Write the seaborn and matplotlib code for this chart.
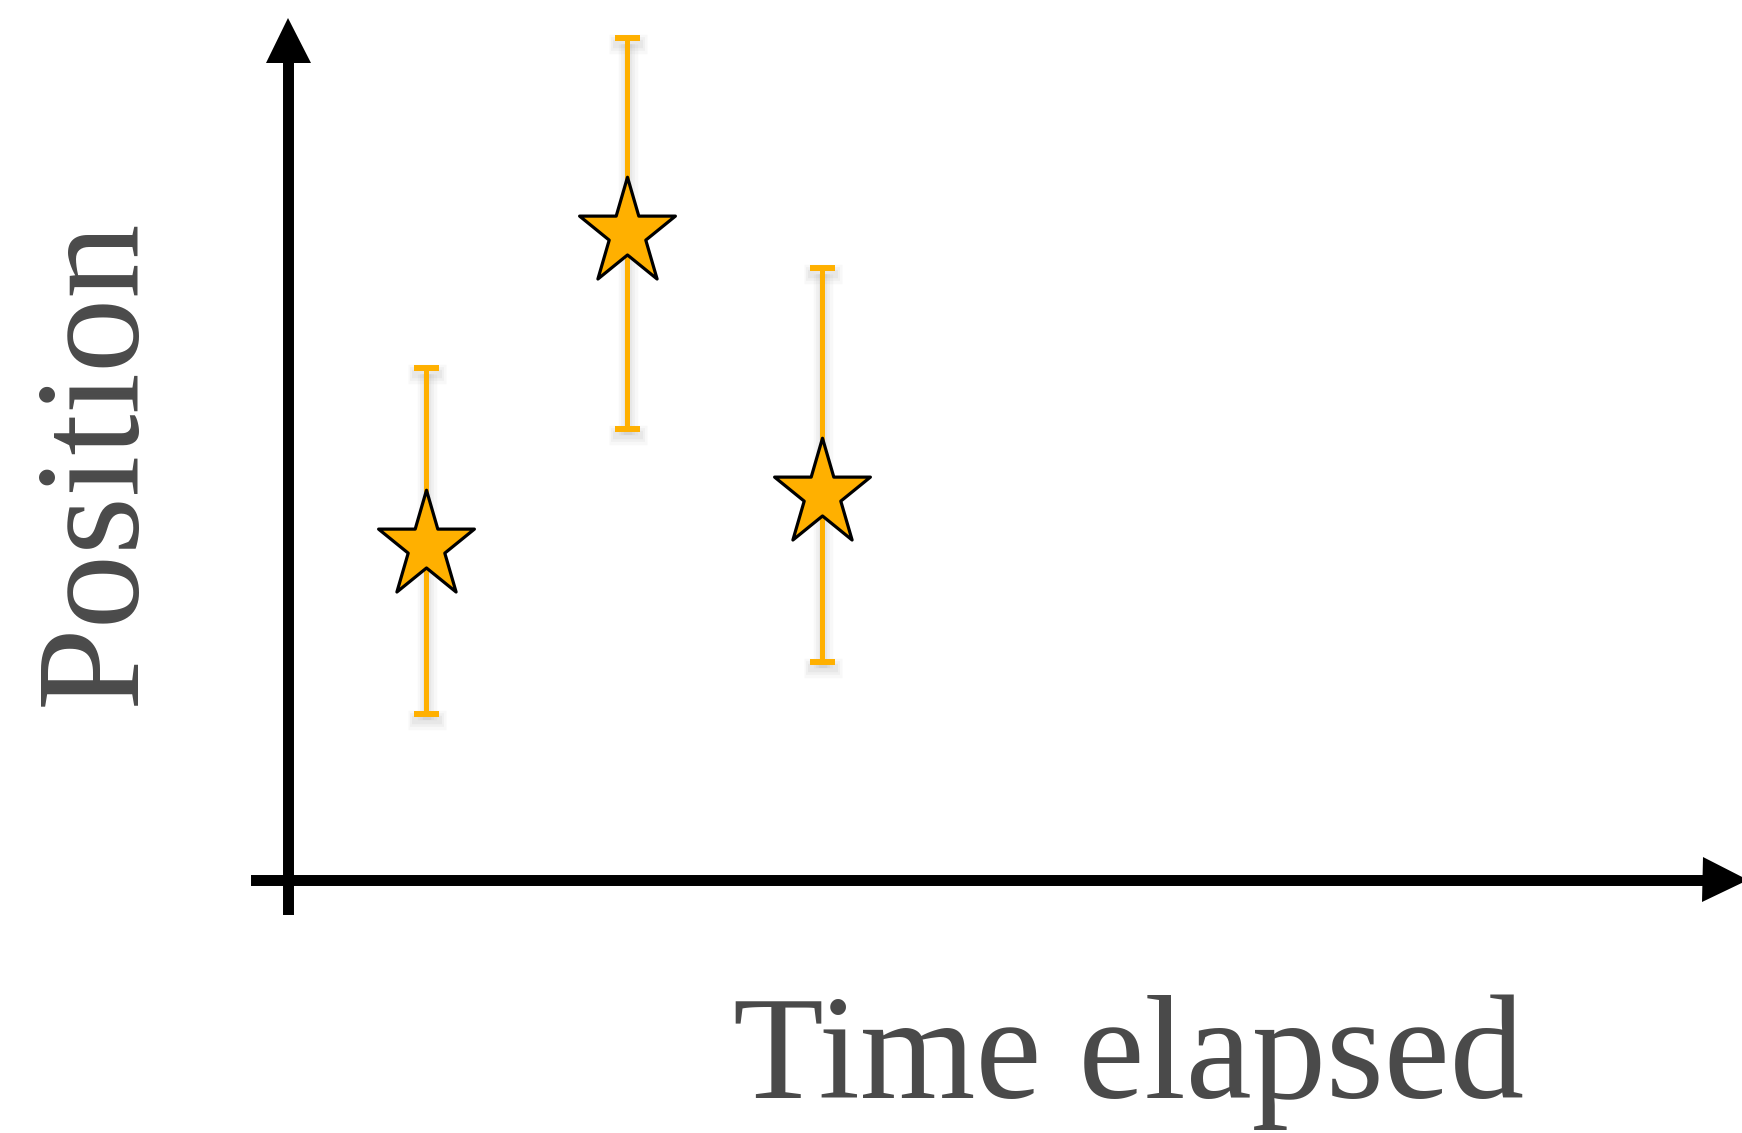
import numpy as np
import pandas
import seaborn as sns
import matplotlib.pyplot as plt
from matplotlib.path import Path
from matplotlib import transforms


TIME = [1.38, 3.39, 5.34]
POSITION = [3.34, 6.47, 3.86]
POS_LOW = [1.66, 4.51, 2.18]
POS_HIGH = [5.12, 8.42, 6.12]

ORANGE = "#FFB000"
TEXT_GREY = "#4A4A4A"


def star_marker(stretch=1.117):
    # five point star, a little taller than wide
    verts = []
    for k in range(5):
        a = np.deg2rad(90 + 72 * k)
        b = np.deg2rad(126 + 72 * k)
        verts.append((np.cos(a), np.sin(a) * stretch))
        verts.append((0.382 * np.cos(b), 0.382 * np.sin(b) * stretch))
    verts.append(verts[0])
    codes = [Path.MOVETO] + [Path.LINETO] * 9 + [Path.CLOSEPOLY]
    return Path(verts, codes)


df = pandas.DataFrame(
    {"time": TIME, "position": POSITION, "low": POS_LOW, "high": POS_HIGH}
)
yerr = [df["position"] - df["low"], df["high"] - df["position"]]

sns.set_style("white")
plt.rcParams["font.family"] = ["Liberation Serif", "DejaVu Serif"]

fig = plt.figure(figsize=(17.42, 11.33), dpi=100)
ax = fig.add_axes([0, 0, 1, 1])
ax.set_xlim(-2.88, 14.54)
ax.set_ylim(-2.53, 8.80)

# soft shadow behind the error bars
shadow = transforms.offset_copy(ax.transData, fig=fig, x=1, y=-6, units="dots")
for w, a in [(14, 0.05), (10, 0.06), (6, 0.08)]:
    sh = ax.errorbar(
        df["time"], df["position"], yerr=yerr, fmt="none", ecolor="grey",
        elinewidth=w, capsize=9 + w / 3, capthick=w, alpha=a, zorder=1,
    )
    for artist in sh.lines[1] + sh.lines[2]:
        artist.set_transform(shadow)

ax.errorbar(
    df["time"], df["position"], yerr=yerr, fmt="none", ecolor=ORANGE,
    elinewidth=3.6, capsize=9, capthick=4.3, zorder=2,
)

sns.scatterplot(
    data=df, x="time", y="position", marker=star_marker(), s=81**2,
    color=ORANGE, edgecolor="black", linewidth=2.3, zorder=3, ax=ax,
    legend=False,
)

# axes drawn as arrows through the origin
for side in ["top", "right"]:
    ax.spines[side].set_visible(False)
ax.spines["left"].set_position(("data", 0))
ax.spines["bottom"].set_position(("data", 0))
ax.spines["left"].set_bounds(-0.285, 8.3)
ax.spines["bottom"].set_bounds(-0.325, 14.3)
for side in ["left", "bottom"]:
    ax.spines[side].set_linewidth(7.9)
    ax.spines[side].set_color("black")
ax.plot(14.37, 0, ">", color="black", ms=32.4, mew=0, clip_on=False)
ax.plot(0, 8.405, "^", color="black", ms=32.4, mew=0, clip_on=False)

ax.set_xticks([])
ax.set_yticks([])
ax.set_xlabel("")
ax.set_ylabel("")

fig.text(0.648, 0.0309, "Time elapsed", fontsize=107, color=TEXT_GREY,
         ha="center", va="baseline", family="Liberation Serif")
fig.text(0.0775, 0.592, "Position", fontsize=107, color=TEXT_GREY,
         rotation=90, rotation_mode="anchor", ha="center", va="baseline",
         family="Liberation Serif")

fig.savefig("out.png", dpi=100)
